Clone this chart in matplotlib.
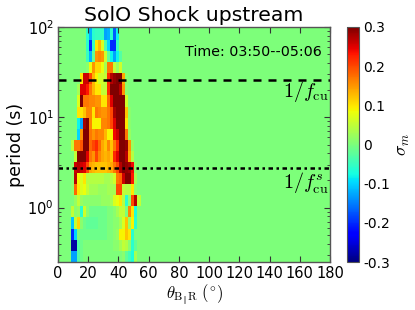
import matplotlib
matplotlib.use('Agg')
import matplotlib.pyplot as plt
import numpy as np

plt.rcParams['font.family'] = 'DejaVu Sans'
plt.rcParams['mathtext.fontset'] = 'cm'

# sigma_m per row (top to bottom), columns are theta bins 8, 10, ... 52 deg
row_00 = [0, 0, 0, 0, 0, -.06, -.12, -.06, -.05, -.05, -.05, -.13, -.12, -.06, -.17, -.08, 0, 0, 0, 0, 0, 0, 0]
row_01 = [0, 0, 0, 0, 0, -.06, -.2, -.05, .1, .13, .07, -.03, -.1, -.2, -.2, -.05, 0, 0, 0, 0, 0, 0, 0]
row_02 = [0, 0, 0, 0, 0, -.05, -.12, -.02, .15, .16, .15, .06, -.02, -.08, -.13, -.08, -.03, 0, 0, 0, 0, 0, 0]
row_03 = [0, 0, 0, 0, 0, .01, .08, .15, .11, .11, .08, .03, .17, .17, .05, .02, .06, 0, 0, 0, 0, 0, 0]
row_04 = [0, 0, 0, .1, .26, .26, .2, .13, .09, .06, .06, .05, .22, .27, .29, .3, .3, .14, .01, 0, 0, 0, 0]
row_05 = [0, 0, .03, .25, .25, .23, .17, .13, .1, .1, .05, .05, .22, .3, .3, .3, .27, .15, .01, 0, 0, 0, 0]
row_06 = [0, 0, .07, .3, .17, .17, .16, .16, .15, .15, .1, .1, .18, .25, .3, .3, .3, .3, .06, 0, 0, 0, 0]
row_07 = [0, 0, .1, .1, .12, .16, .16, .1, .17, .16, .15, .15, .17, .2, .28, .3, .3, .3, .12, .01, 0, 0, 0]
row_08 = [0, 0, -.08, -.13, .28, .3, .16, .09, .09, .09, .16, .16, .17, .2, .25, .3, .3, .3, .1, .01, 0, 0, 0]
row_09 = [0, 0, -.1, .15, .3, .3, .17, .15, .17, .16, .16, .13, .09, .09, .24, .26, .3, .3, .17, .02, 0, 0, 0]
row_10 = [.05, .17, .17, .19, .3, .3, .18, .2, .22, .18, .14, .12, .16, .12, .17, .22, .3, .3, .29, .15, .02, 0, 0]
row_11 = [0, .05, .3, .3, .3, .25, .17, .15, .2, .16, .14, .13, .14, .12, .22, .25, .3, .3, .27, .14, .04, 0, 0]
row_12 = [.01, .26, .27, .26, .25, .2, .14, .13, .12, .12, .12, .12, .13, .14, .17, .2, .27, .3, .29, .28, .24, .01, 0]
row_13 = [.01, .27, .09, .07, .1, .04, .04, .04, .04, .04, .04, .03, .03, .04, .06, .17, .18, .26, .3, .3, .23, .03, 0]
row_14 = [.01, .18, .1, .07, .08, .05, .03, .03, .03, .02, .02, .02, .03, .03, .03, .2, .2, .05, .04, .04, .1, .01, 0]
row_15 = [0, .02, .05, .02, .01, .01, .01, .01, .01, .01, .02, .02, .02, .03, .07, .08, .1, .04, -.06, .01, .2, .27, .05]
row_16 = [.05, .01, .02, -.06, .06, .01, -.01, -.01, -.01, -.01, -.01, -.01, 0, 0, .01, .03, .05, .05, 0, .16, .1, -.07, 0]
row_17 = [-.11, .05, .11, .01, -.01, -.02, -.02, -.02, -.02, -.01, -.01, -.01, 0, 0, .01, .01, .03, .07, .12, .02, .09, -.06, 0]
row_18 = [-.2, -.1, 0, -.01, -.01, -.01, -.01, -.01, -.01, -.01, -.01, -.01, 0, 0, .01, .02, .09, .09, .12, .1, -.06, 0, 0]
row_19 = [-.28, -.28, -.03, -.01, 0, 0, 0, 0, 0, 0, 0, 0, 0, 0, .01, .01, .03, .05, .04, .01, -.06, -.02, 0]
row_20 = [-.13, -.13, -.03, -.01, 0, 0, 0, 0, 0, 0, 0, 0, 0, 0, 0, 0, 0, .01, -.02, -.04, -.07, .03, 0]

rows = [row_00, row_01, row_02, row_03, row_04, row_05, row_06, row_07, row_08, row_09, row_10,
        row_11, row_12, row_13, row_14, row_15, row_16, row_17, row_18, row_19, row_20]

first_col = 8
cb_ticks = [-0.3, -0.2, -0.1, 0, 0.1, 0.2, 0.3]
cb_labels = ['-0.3', '-0.2', '-0.1', '0', '0.1', '0.2', '0.3']
x_ticks = list(range(0, 181, 20))
period_fcu = 26
period_fscu = 2.75

# full grid, quiet outside the band
theta_edges = np.arange(-1.4, 181, 2)
log_period_edges = np.append(-0.6 + 0.1228 * np.arange(21), 2.0)
period_edges = 10 ** log_period_edges

grid = np.zeros((len(rows), len(theta_edges) - 1))
start = np.searchsorted(theta_edges, first_col + 0.6)
grid[:, start:start + 23] = np.array(rows)
grid = grid[::-1]  # bottom row first

fig = plt.figure(figsize=(4.15, 3.10), dpi=100)
ax = fig.add_axes([58 / 415, 1 - 262 / 310, 272 / 415, 235 / 310])
cax = fig.add_axes([347 / 415, 1 - 262 / 310, 12 / 415, 235 / 310])

pc = ax.pcolormesh(theta_edges, period_edges, grid, cmap='jet', vmin=-0.3, vmax=0.3,
                   shading='flat', linewidth=0, rasterized=True)
ax.set_yscale('log')
ax.set_xlim(0, 180)
ax.set_ylim(0.25, 100)
ax.set_xticks(x_ticks)

ax.axhline(period_fcu, color='k', lw=1.8, dashes=(3.2, 2.8))
ax.axhline(period_fscu, color='k', lw=1.8, dashes=(1.8, 1.4, 1, 1.4))

ax.set_title('SolO Shock upstream', fontsize=14.7, pad=4)
ax.set_xlabel(r'$\theta_{\mathrm{B_{\|}R}}\ (^{\circ})$', fontsize=12, labelpad=1)
ax.set_ylabel('period (s)', fontsize=12.5, labelpad=2)
ax.text(0.468, 0.895, 'Time: 03:50--05:06', transform=ax.transAxes, fontsize=10.3, va='center')
ax.text(0.995, 0.725, r'$1/f_{\mathrm{cu}}$', transform=ax.transAxes, fontsize=14.5, ha='right', va='center')
ax.text(0.995, 0.335, r'$1/f_{\mathrm{cu}}^{s}$', transform=ax.transAxes, fontsize=14.5, ha='right', va='center')

ax.tick_params(which='both', direction='in', top=True, right=True, color='#333333', labelsize=10.5, pad=3)
ax.tick_params(which='major', length=4, width=0.8)
ax.tick_params(which='minor', length=2, width=0.6)
for s in ax.spines.values():
    s.set_color('#555555')
    s.set_linewidth(1)

cb = fig.colorbar(pc, cax=cax)
cb.set_ticks(cb_ticks)
cb.set_ticklabels(cb_labels)
cb.ax.tick_params(labelsize=10, length=0, pad=3)
cb.set_label(r'$\sigma_m$', fontsize=13, labelpad=3)
cb.outline.set_edgecolor('#555555')

fig.savefig('out.png', dpi=100)
